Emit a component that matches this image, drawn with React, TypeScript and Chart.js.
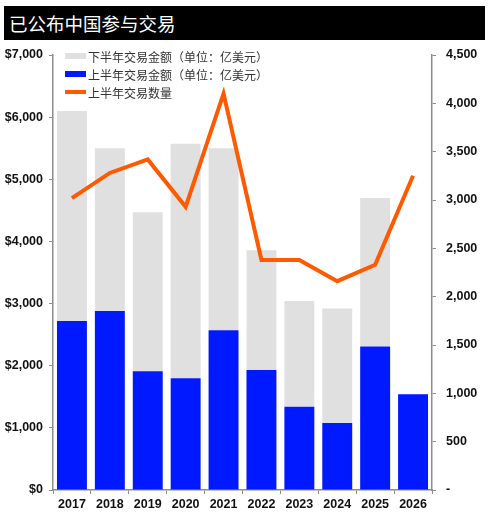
import React, { useEffect, useRef } from "react";
import { Chart, registerables } from "chart.js";

Chart.register(...registerables);

const years = ["2017", "2018", "2019", "2020", "2021", "2022", "2023", "2024", "2025", "2026"];
const firstHalfValue = [2720, 2880, 1910, 1800, 2570, 1930, 1340, 1080, 2310, 1540];
const secondHalfValue = [3380, 2620, 2560, 3770, 2930, 1930, 1700, 1840, 2390, 0];
const firstHalfCount = [3020, 3280, 3420, 2930, 4100, 2380, 2380, 2160, 2330, 3250];

const titleText = "已公布中国参与交易";
const legendLabels = [
  "下半年交易金额（单位：亿美元）",
  "上半年交易金额（单位：亿美元）",
  "上半年交易数量",
];

const GRAY = "#E0E0E0";
const BLUE = "#0019FF";
const ORANGE = "#FF5A00";
const AXIS = "#8c8c8c";
const TICK_FONT = { family: "'Liberation Sans', Arial, sans-serif", size: 12.5, weight: "bold" as const };

export default function App() {
  const ref = useRef<HTMLCanvasElement | null>(null);

  useEffect(() => {
    if (!ref.current) return;
    const chart = new Chart(ref.current, {
      type: "bar",
      data: {
        labels: years,
        datasets: [
          {
            type: "line",
            label: legendLabels[2],
            data: firstHalfCount,
            yAxisID: "y1",
            borderColor: ORANGE,
            backgroundColor: ORANGE,
            borderWidth: 4,
            pointRadius: 0,
            tension: 0,
            order: 0,
            borderJoinStyle: "miter",
          } as any,
          {
            type: "bar",
            label: legendLabels[1],
            data: firstHalfValue,
            backgroundColor: BLUE,
            stack: "s",
            yAxisID: "y",
            barPercentage: 0.79,
            categoryPercentage: 1,
            order: 1,
          },
          {
            type: "bar",
            label: legendLabels[0],
            data: secondHalfValue,
            backgroundColor: GRAY,
            stack: "s",
            yAxisID: "y",
            barPercentage: 0.79,
            categoryPercentage: 1,
            order: 1,
          },
        ],
      },
      options: {
        animation: false,
        responsive: false,
        maintainAspectRatio: false,
        layout: { padding: { top: 55, left: 0, right: 0, bottom: 0 } },
        plugins: { legend: { display: false }, tooltip: { enabled: false }, title: { display: false } },
        scales: {
          x: {
            stacked: true,
            grid: { display: true, drawOnChartArea: false, drawTicks: true, tickLength: 4, color: AXIS, offset: true },
            border: { display: true, color: AXIS, width: 1.5 },
            ticks: { color: "#111", font: TICK_FONT, padding: 3, maxRotation: 0 },
            afterFit: (s: any) => { s.height = 28; },
          },
          y: {
            stacked: true,
            position: "left",
            min: 0,
            max: 7000,
            grid: { display: true, drawOnChartArea: false, drawTicks: true, tickLength: 4, color: AXIS },
            border: { display: true, color: AXIS, width: 1.5 },
            ticks: {
              stepSize: 1000,
              color: "#111",
              font: TICK_FONT,
              padding: 6,
              callback: (v: any) => "$" + Number(v).toLocaleString("en-US"),
            },
            afterFit: (s: any) => { s.width = 53; },
          },
          y1: {
            position: "right",
            min: 0,
            max: 4500,
            grid: { display: true, drawOnChartArea: false, drawTicks: true, tickLength: 4, color: AXIS },
            border: { display: true, color: AXIS, width: 1.5 },
            ticks: {
              stepSize: 500,
              color: "#111",
              font: TICK_FONT,
              padding: 10,
              callback: (v: any) => (Number(v) === 0 ? "-" : Number(v).toLocaleString("en-US")),
            },
            afterFit: (s: any) => { s.width = 58; },
          },
        },
      },
    });
    return () => chart.destroy();
  }, []);

  const cjk = "'Noto Sans CJK SC', 'Noto Sans', sans-serif";

  return (
    <div style={{ position: "absolute", left: 0, top: 0, width: 490, height: 518, background: "#fff", overflow: "hidden" }}>
      <canvas ref={ref} width={490} height={518} style={{ position: "absolute", left: 0, top: 0, width: 490, height: 518 }} />
      <div
        style={{
          position: "absolute",
          left: 4,
          top: 6,
          width: 481,
          height: 34,
          background: "#000",
          color: "#fff",
          fontFamily: cjk,
          fontSize: 18.5,
          lineHeight: "34px",
          paddingLeft: 5,
          boxSizing: "border-box",
        }}
      >
        {titleText}
      </div>
      <div style={{ position: "absolute", left: 65, top: 47, fontFamily: cjk, fontSize: 12, color: "#333" }}>
        {legendLabels.map((lab, i) => (
          <div key={i} style={{ display: "flex", alignItems: "center", height: 18 }}>
            <span
              style={{
                display: "inline-block",
                width: 21,
                height: i === 2 ? 4 : 6,
                background: i === 0 ? GRAY : i === 1 ? BLUE : ORANGE,
                marginRight: 2,
              }}
            />
            <span>{lab}</span>
          </div>
        ))}
      </div>
    </div>
  );
}
